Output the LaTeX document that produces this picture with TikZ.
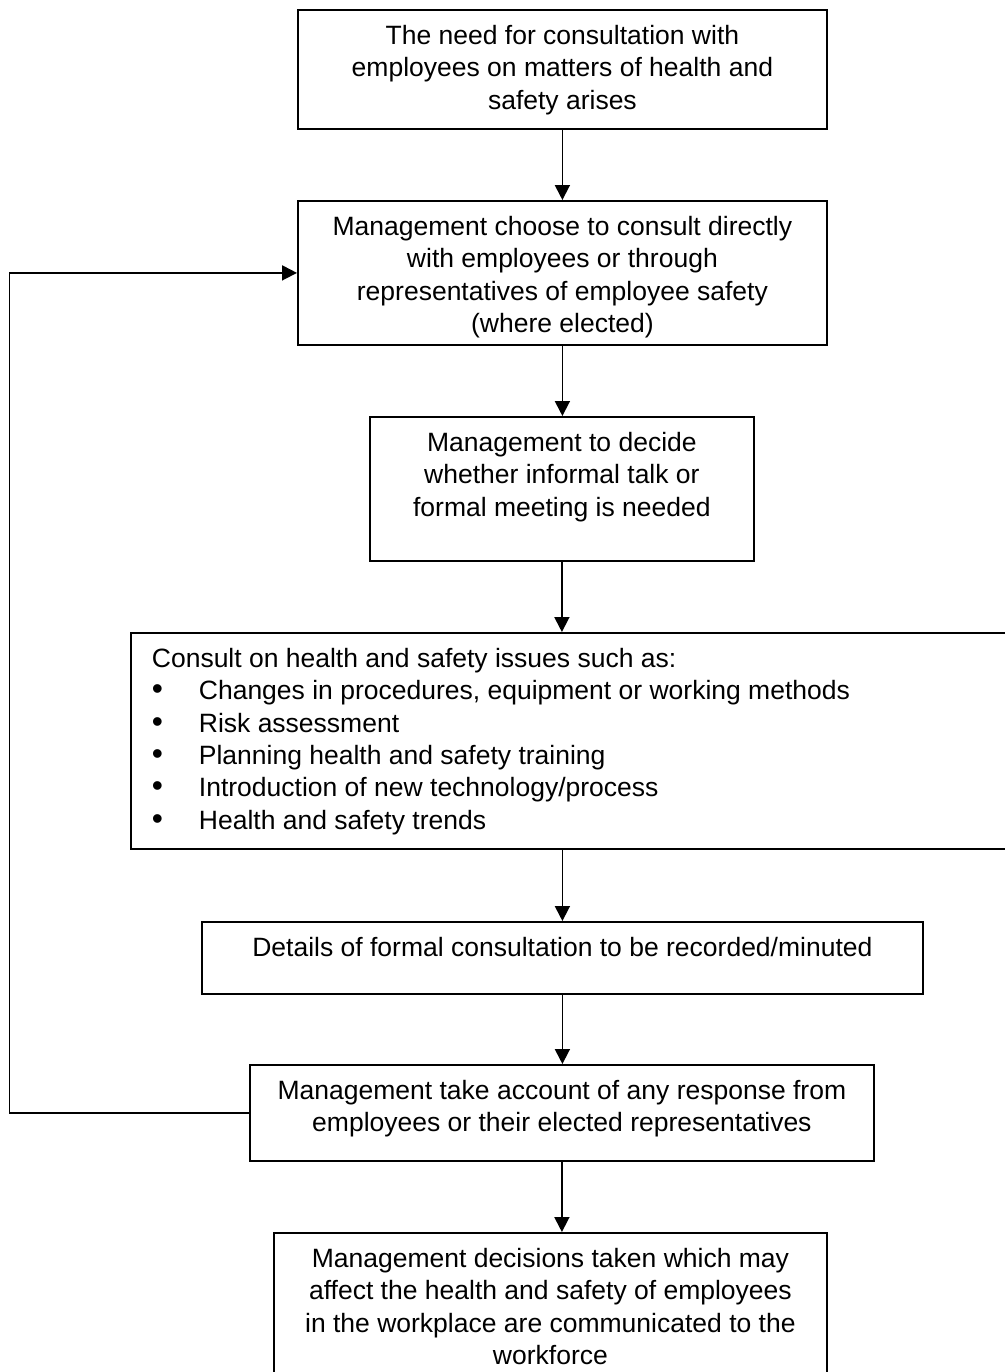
\documentclass[tikz,border=0pt]{standalone}
\usepackage{fontspec}
\setmainfont{Liberation Sans}
\usepackage{graphicx}
\usetikzlibrary{arrows.meta}

\newcommand{\steptext}[3]{\parbox[t][#2][t]{#1}{\centering\vspace*{7.6pt}#3}}
\newcommand{\listdot}{\makebox[23.5pt][l]{\smash{\scalebox{1.2}{\textbullet}}}}

\begin{document}
\begin{tikzpicture}[x=0.5pt,y=-0.5pt,
    stepbox/.style={draw, line width=0.9pt, inner sep=0pt, anchor=north west,
      font=\fontsize{13.25}{16.2}\selectfont},
    flow/.style={line width=0.9pt, -{Triangle[length=7.5pt,width=7.5pt]}}]
  \useasboundingbox (0,0) rectangle (1005,1372);
  \clip (0,0) rectangle (1005,1372);
  % boxes, top to bottom
  \node[stepbox] (b1) at (297,9) {\steptext{264.5pt}{59.5pt}{The need for consultation with\\employees on matters of health and\\safety arises}};
  \node[stepbox] (b2) at (297,200) {\steptext{264.5pt}{72pt}{Management choose to consult directly\\with employees or through\\representatives of employee safety\\(where elected)}};
  \node[stepbox] (b3) at (369,416) {\steptext{192pt}{72pt}{Management to decide\\whether informal talk or\\formal meeting is needed}};
  \node[stepbox] (b4) at (130,632) {\parbox[t][108pt][t]{450pt}{\raggedright\leftskip=10.5pt\vspace*{7.6pt}Consult on health and safety issues such as:\\
    \listdot Changes in procedures, equipment or working methods\\
    \listdot Risk assessment\\
    \listdot Planning health and safety training\\
    \listdot Introduction of new technology/process\\
    \listdot Health and safety trends}};
  \node[stepbox] (b5) at (201,921) {\steptext{360.5pt}{36pt}{Details of formal consultation to be recorded/minuted}};
  \node[stepbox] (b6) at (249,1064) {\steptext{312pt}{48pt}{Management take account of any response from\\employees or their elected representatives}};
  \node[stepbox] (b7) at (273,1232) {\steptext{276.5pt}{80pt}{Management decisions taken which may\\affect the health and safety of employees\\in the workplace are communicated to the\\workforce}};
  % connectors
  \draw[flow] (b1) -- (b2);
  \draw[flow] (b2) -- (b2 |- b3.north);
  \draw[flow] (b3) -- (b3 |- b4.north);
  \draw[flow] (b5 |- b4.south) -- (b5);
  \draw[flow] (b5) -- (b5 |- b6.north);
  \draw[flow] (b6) -- (b6 |- b7.north);
  \coordinate (loop) at (9.5,0);
  \draw[flow] (b6.west) -- (b6.west -| loop) |- (b2.west);
\end{tikzpicture}
\end{document}
